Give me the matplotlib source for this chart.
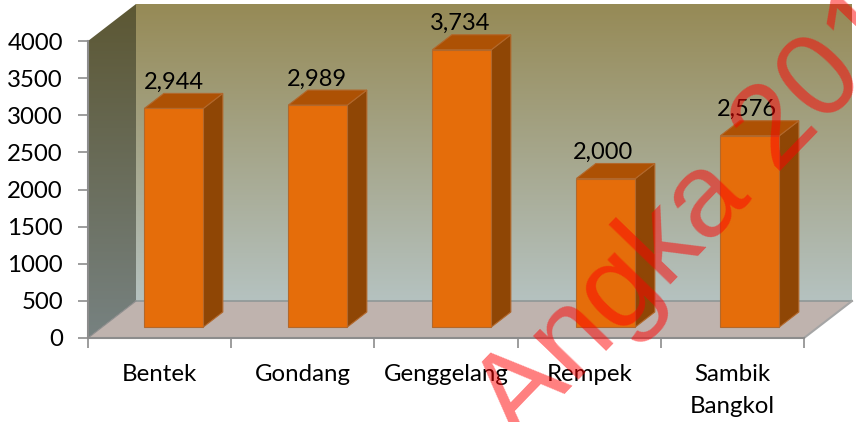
# Bar chart with fake 3D box look, values per kecamatan
import numpy as np
import matplotlib
matplotlib.use('Agg')
import matplotlib.pyplot as plt
from matplotlib.patches import Polygon
from matplotlib.colors import LinearSegmentedColormap

plt.rcParams['font.family'] = ['Lato', 'DejaVu Sans']

categories = ['Bentek', 'Gondang', 'Genggelang', 'Rempek', 'Sambik\nBangkol']
values = [2944, 2989, 3734, 2000, 2576]
y_ticks = [0, 500, 1000, 1500, 2000, 2500, 3000, 3500, 4000]

W, H = 856, 422
fig = plt.figure(figsize=(W / 100, H / 100), dpi=100)
ax = fig.add_axes([88 / W, (H - 338) / H, 716 / W, 297 / H])
ax.set_xlim(0, 5)
ax.set_ylim(0, 4000)
ax.patch.set_visible(False)

# depth of the box, in data units
DX = 48 / 143.2
DY = 37 / 0.07425


def pt(x, v, d=0.0):
    return (x + d * DX, v + d * DY)


def gradient(poly, top, bottom, y0, y1, z):
    cmap = LinearSegmentedColormap.from_list('g', [bottom, top])
    grad = np.linspace(0, 1, 256).reshape(-1, 1)
    xs = [p[0] for p in poly]
    im = ax.imshow(grad, origin='lower', cmap=cmap, aspect='auto', zorder=z,
                   extent=(min(xs), max(xs), y0, y1))
    clip = Polygon(poly, closed=True, transform=ax.transData, fill=False, ec='none', clip_on=False)
    ax.add_patch(clip)
    im.set_clip_path(clip)
    im.set_clip_box(fig.bbox)


# walls and floor
back = [pt(0, 0, 1), pt(5, 0, 1), pt(5, 4000, 1), pt(0, 4000, 1)]
side = [pt(0, 0, 0), pt(0, 0, 1), pt(0, 4000, 1), pt(0, 4000, 0)]
floor = [pt(0, 0, 0), pt(5, 0, 0), pt(5, 0, 1), pt(0, 0, 1)]
gradient(back, '#968A56', '#B5C2C0', DY, 4000 + DY, 1)
gradient(side, '#5C5733', '#778281', 0, 4000 + DY, 2)
ax.set_xlim(0, 5)
ax.set_ylim(0, 4000)
ax.add_patch(Polygon(floor, closed=True, fc='#BFB3AE', ec='none', zorder=2, clip_on=False))
ax.plot([pt(0, 0, 1)[0], pt(5, 0, 1)[0]], [DY, DY], color='#8F9796', lw=1.2, zorder=3, clip_on=False)
ax.plot(*zip(pt(5, 0, 0), pt(5, 0, 1)), color='#A5A5A5', lw=1.5, zorder=3, clip_on=False)
ax.plot(*zip(pt(0, 0, 0), pt(0, 0, 1)), color='#8C8C8C', lw=0.8, zorder=3, clip_on=False)

# bars
bar_w = 59 / 143.2
bar_step = 144 / 143.2
d0, d1 = 11 / 37, 26 / 37
edge = '#B2682C'
for i, v in enumerate(values):
    x0 = i * bar_step + 0.5 - bar_w / 2
    x1 = x0 + bar_w
    front = [pt(x0, 0, d0), pt(x1, 0, d0), pt(x1, v, d0), pt(x0, v, d0)]
    right = [pt(x1, 0, d0), pt(x1, 0, d1), pt(x1, v, d1), pt(x1, v, d0)]
    lid = [pt(x0, v, d0), pt(x1, v, d0), pt(x1, v, d1), pt(x0, v, d1)]
    ax.add_patch(Polygon(right, closed=True, fc='#8F4605', ec=edge, lw=0.8, zorder=4, clip_on=False))
    ax.add_patch(Polygon(lid, closed=True, fc='#AD5104', ec=edge, lw=0.8, zorder=4, clip_on=False))
    ax.add_patch(Polygon(front, closed=True, fc='#E56D0A', ec=edge, lw=0.8, zorder=5, clip_on=False))
    tx, ty = pt(i + 0.5, v, d0)
    ax.annotate(f'{v:,}', (tx, ty), xytext=(0, 18.7), textcoords='offset points',
                ha='center', va='center', fontsize=17, color='black', zorder=6,
                annotation_clip=False)

# axes
for s in ['top', 'right']:
    ax.spines[s].set_visible(False)
for s in ['left', 'bottom']:
    ax.spines[s].set_color('#8C8C8C')
    ax.spines[s].set_linewidth(1.5)
    ax.spines[s].set_zorder(3)
ax.set_yticks(y_ticks)
ax.tick_params(axis='y', length=7, width=1.2, color='#8C8C8C', labelsize=17.3, pad=11, labelcolor='black')
ax.set_xticks(range(6))
ax.set_xticklabels([])
ax.tick_params(axis='x', which='major', length=7, width=1.2, color='#8C8C8C')
ax.set_xticks(np.arange(5) + 0.5, minor=True)
ax.set_xticklabels(categories, minor=True, fontsize=17.3, linespacing=1.65, va='top')
ax.tick_params(axis='x', which='minor', length=0, pad=18.5, labelcolor='black')

# watermark
fig.text(518 / W, (H - 443) / H, 'Angka 2014', fontsize=86, color='red', alpha=0.5,
         family='Liberation Sans', rotation=46, rotation_mode='anchor',
         ha='left', va='baseline', zorder=10)

fig.savefig('out.png', dpi=100)
